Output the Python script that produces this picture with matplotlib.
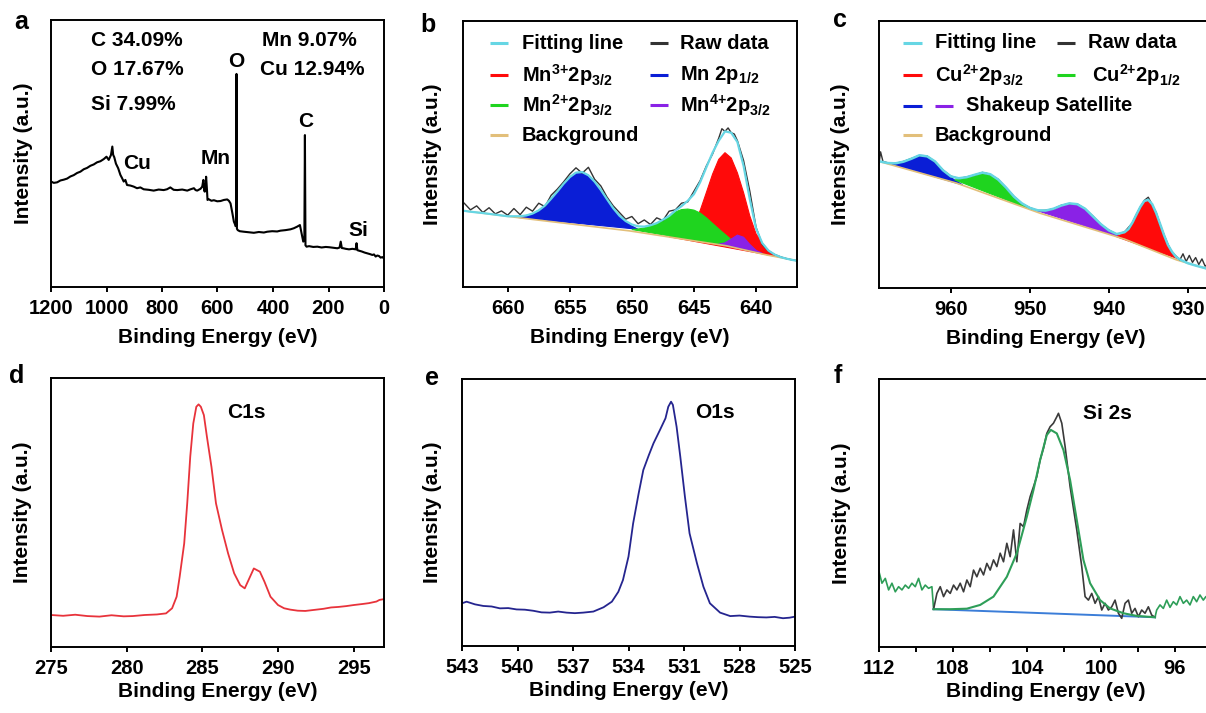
import matplotlib
matplotlib.use('Agg')
import matplotlib.pyplot as plt
from matplotlib.ticker import MultipleLocator

plt.rcParams['font.family'] = 'Liberation Sans'
plt.rcParams['font.weight'] = 'bold'
plt.rcParams['mathtext.fontset'] = 'custom'
plt.rcParams['mathtext.rm'] = 'Liberation Sans:bold'
plt.rcParams['mathtext.it'] = 'Liberation Sans:bold'
plt.rcParams['mathtext.bf'] = 'Liberation Sans:bold'
plt.rcParams['mathtext.default'] = 'rm'
plt.rcParams['axes.linewidth'] = 1.4

# ---------------- data (binding energy in eV, intensity in a.u.) ----------------
# a: survey
survey_ev = [1200, 1190, 1178, 1166, 1154, 1142, 1130, 1118, 1106, 1094, 1082, 1070, 1058, 1046,
             1034, 1022, 1010, 1000, 992, 984, 979, 976, 972, 966, 958, 950, 944, 938, 932, 926,
             914, 902, 890, 878, 866, 848, 830, 812, 794, 782, 770, 758, 745, 727, 709, 697, 685,
             679, 673, 661, 655, 651, 648, 646, 643, 641, 638, 636, 632, 622, 613, 601, 589, 577,
             565, 559, 553, 547, 541, 537, 535, 533, 531.5, 530, 527, 520, 505, 487, 469, 451, 433,
             421, 403, 385, 373, 355, 337, 325, 313, 303, 297, 291, 287, 285, 283, 279, 270, 255,
             240, 225, 210, 198, 183, 168, 160, 156, 152, 146, 138, 126, 114, 102, 99, 96, 90, 80,
             70, 60, 50, 42, 36, 30, 24, 18, 12, 6, 0]
survey_int = [39.5, 39.0, 39.2, 39.9, 40.2, 40.6, 41.4, 41.9, 42.7, 43.2, 44.1, 44.6, 45.4, 45.9,
              46.7, 47.1, 47.9, 48.8, 47.6, 49.4, 52.6, 49.5, 48.6, 46.2, 44.5, 42.0, 40.8, 39.5,
              40.1, 38.2, 38.0, 37.6, 37.0, 37.3, 36.6, 36.4, 36.1, 36.5, 36.3, 36.6, 37.3, 36.4,
              36.3, 36.5, 36.1, 36.6, 37.0, 36.3, 36.1, 36.8, 37.6, 40.1, 36.2, 35.7, 38.0, 41.3,
              36.5, 32.6, 32.9, 32.3, 32.5, 32.1, 32.2, 32.6, 32.8, 32.3, 31.3, 28.0, 24.5, 23.5,
              22.8, 23.0, 79.8, 21.8, 21.3, 20.9, 20.7, 20.5, 20.3, 20.6, 20.4, 20.7, 20.9, 20.8,
              21.1, 21.3, 21.6, 22.0, 22.6, 23.2, 20.1, 17.0, 17.5, 56.9, 15.6, 15.1, 15.3, 15.0,
              15.1, 14.8, 15.0, 14.9, 14.7, 14.5, 14.8, 17.0, 14.6, 14.5, 14.3, 14.1, 14.3, 14.1,
              16.4, 13.8, 13.6, 13.3, 12.9, 12.6, 12.3, 12.0, 12.2, 11.4, 11.8, 11.6, 11.0, 11.2, 10.7]
survey_labels = ['O', 'C', 'Cu', 'Mn', 'Si']
survey_label_ev = [531, 283, 890, 607, 91]
survey_label_int = [84.3, 61.8, 46.4, 48.3, 21.3]
composition = ['C 34.09%', 'O 17.67%', 'Si 7.99%', 'Mn 9.07%', 'Cu 12.94%']

# b: Mn 2p
mn_bg_ev = [663.6, 658.0, 650.2, 642.4, 639.1, 636.7]
mn_bg_int = [28.7, 25.4, 21.1, 15.5, 12.0, 9.9]
mn_fit_ev = [663.6, 663, 662, 661, 660, 659, 658.5, 658, 657.5, 657, 656.5, 656, 655.5, 655, 654.5,
             654, 653.5, 653, 652.5, 652, 651.5, 651, 650.5, 650, 649.5, 649, 648.5, 648, 647.5,
             647, 646.5, 646, 645.5, 645, 644.5, 644, 643.5, 643, 642.5, 642, 641.5, 641, 640.5,
             640, 639.5, 639, 638.5, 638, 637.5, 637, 636.7]
mn_fit_int = [28.7, 28.3, 27.8, 27.2, 26.6, 26.6, 26.9, 27.6, 28.8, 30.6, 33.2, 35.9, 38.8, 41.3,
              43.0, 43.2, 42.0, 39.6, 36.5, 33.0, 29.6, 26.8, 24.8, 23.5, 22.8, 22.7, 23.2, 24.0,
              25.3, 26.7, 28.7, 30.4, 32.4, 34.9, 39.4, 45.0, 50.5, 55.0, 58.5, 58.0, 54.5, 45.5,
              33.0, 22.0, 16.5, 13.7, 12.2, 11.2, 10.6, 10.1, 9.9]
mn_raw_ev = [663.5, 663, 662.5, 662, 661.5, 661, 660.5, 660, 659.5, 659, 658.5, 658, 657.5, 657,
             656.5, 656, 655.5, 655, 654.5, 654, 653.5, 653, 652.5, 652, 651.5, 651, 650.5, 650,
             649.5, 649, 648.5, 648, 647.5, 647, 646.5, 646, 645.5, 645, 644.5, 644, 643.5, 643,
             642.75, 642.5, 642.25, 642, 641.75, 641.5, 641, 640.5, 640, 639.5, 639, 638.5, 638,
             637.5, 637, 636.7]
mn_raw_int = [31.5, 29.0, 30.5, 28.0, 29.8, 27.5, 28.6, 27.0, 29.5, 27.2, 30.0, 28.5, 31.5, 30.2,
              34.5, 36.8, 39.5, 42.5, 44.8, 42.8, 45.0, 40.5, 38.0, 33.8, 30.5, 28.0, 25.5, 26.5,
              23.8, 25.2, 23.5, 26.0, 25.0, 28.5, 29.0, 31.5, 32.0, 36.0, 40.0, 45.5, 50.0, 56.0,
              59.5, 58.5, 59.8, 58.0, 57.5, 55.0, 47.5, 36.0, 22.5, 16.0, 13.5, 12.2, 11.3, 10.6,
              10.1, 9.9]
mn12_ev = [659.5, 659.0, 658.5, 658.0, 657.5, 657.0, 656.5, 656.0, 655.5, 655.0, 654.5, 654.0,
           653.5, 653.0, 652.5, 652.0, 651.5, 651.0, 650.5, 650.0, 649.5]
mn12_int = [26.3, 26.6, 26.9, 27.6, 28.8, 30.6, 33.2, 35.9, 38.8, 41.3, 43.0, 43.2, 42.0, 39.6,
            36.5, 33.0, 29.6, 26.8, 24.5, 22.9, 21.7]
mn3_ev = [647.0, 646.5, 646.0, 645.5, 645.0, 644.5, 644.0, 643.5, 643.0, 642.5, 642.0, 641.5,
          641.0, 640.5, 640.0, 639.5, 639.0, 638.5, 638.0]
mn3_int = [18.9, 19.1, 19.5, 20.9, 23.4, 28.7, 35.5, 42.4, 48.0, 50.5, 48.5, 42.9, 35.4, 26.7,
           20.0, 16.5, 13.7, 12.2, 11.2]
mn2_ev = [650.0, 649.5, 649.0, 648.5, 648.0, 647.5, 647.0, 646.5, 646.0, 645.5, 645.0, 644.5,
          644.0, 643.5, 643.0, 642.5, 642.0, 641.5, 641.0, 640.5]
mn2_int = [21.6, 21.8, 22.2, 23.0, 24.0, 25.3, 26.5, 28.2, 29.1, 29.3, 28.9, 27.8, 26.0, 23.9,
           21.8, 19.8, 17.8, 16.3, 15.0, 14.0]
mn4_ev = [643.0, 642.5, 642.0, 641.5, 641.0, 640.5, 640.0, 639.5]
mn4_int = [16.1, 16.6, 18.0, 19.5, 18.7, 16.0, 13.8, 12.65]

# c: Cu 2p
cu_bg_ev = [969.1, 959.3, 948.7, 938.0, 931.4, 926.8]
cu_bg_int = [47.4, 39.3, 28.0, 18.3, 10.5, 6.6]
cu_fit_ev = [969.1, 969, 968, 967, 966, 965, 964, 963, 962, 961, 960, 959, 958, 957, 956, 955,
             954, 953, 952, 951, 950, 949, 948, 947, 946, 945, 944, 943, 942, 941, 940, 939, 938,
             937.5, 937, 936.5, 936, 935.5, 935, 934.5, 934, 933.5, 933, 932.5, 932, 931.5, 931,
             930, 929, 928, 926.8]
cu_fit_int = [47.4, 47.4, 46.8, 46.7, 47.3, 48.4, 49.7, 49.3, 47.4, 44.1, 41.8, 41.1, 41.5, 42.4,
              43.2, 42.6, 40.6, 37.6, 34.2, 31.7, 30.0, 29.1, 29.0, 29.7, 30.9, 31.7, 31.4, 29.7,
              26.8, 23.9, 21.6, 20.2, 20.9, 22.1, 24.5, 27.5, 30.4, 32.6, 33.0, 31.4, 28.1, 24.0,
              19.8, 16.1, 13.6, 11.7, 10.7, 9.3, 8.4, 7.6, 6.6]
cu_raw_ev = [969.1, 968.9, 968.6, 968, 967, 966, 965, 964, 963, 962, 961, 960, 959, 958, 957, 956,
             955, 954, 953, 952, 951, 950, 949, 948, 947, 946, 945, 944, 943, 942, 941, 940, 939,
             938, 937, 936.5, 936, 935.5, 935, 934.5, 934, 933.5, 933, 932.5, 932, 931.5, 931,
             930.6, 930.2, 929.8, 929.4, 929, 928.6, 928.2, 927.8, 927.4, 927.0]
cu_raw_int = [46.5, 51.0, 47.4, 46.9, 46.7, 47.4, 48.5, 49.6, 49.4, 47.3, 44.2, 41.9, 41.0, 41.6,
              42.3, 43.3, 42.5, 40.7, 37.5, 34.3, 31.6, 30.1, 29.0, 29.1, 29.6, 31.0, 31.6, 31.5,
              29.6, 26.9, 23.8, 21.7, 20.1, 21.0, 24.4, 27.6, 30.3, 32.8, 34.0, 31.2, 28.3, 23.8,
              19.9, 16.3, 13.4, 12.0, 10.5, 12.8, 9.9, 12.2, 9.6, 11.4, 8.8, 10.9, 8.2, 9.0, 7.4]
sat1_ev = [968.0, 967.0, 966.0, 965.0, 964.0, 963.3, 962.5, 961.5, 960.5, 959.5, 958.5]
sat1_int = [46.8, 46.7, 47.3, 48.4, 49.7, 49.6, 48.3, 45.5, 42.6, 40.4, 38.6]
cu12_ev = [959.5, 959.0, 958.0, 957.0, 956.0, 955.3, 954.5, 953.5, 952.5, 951.5, 950.5, 949.5]
cu12_int = [40.5, 40.6, 41.3, 42.4, 43.2, 42.9, 41.6, 38.7, 35.3, 32.4, 30.5, 29.0]
sat2_ev = [949.0, 948.0, 947.0, 946.0, 945.0, 944.1, 943.0, 942.0, 941.0, 940.0, 939.0, 938.0]
sat2_int = [28.9, 29.0, 29.7, 30.9, 31.7, 31.5, 29.7, 26.8, 23.9, 21.5, 19.7, 18.5]
cu32_ev = [939.0, 938.0, 937.5, 937.0, 936.5, 936.0, 935.5, 935.0, 934.5, 934.0, 933.5, 933.0,
           932.5, 932.0, 931.5, 931.0]
cu32_int = [19.2, 20.7, 22.0, 24.5, 27.5, 30.4, 32.6, 33.0, 31.4, 28.1, 24.0, 19.8, 16.1, 13.6,
            11.7, 10.7]

# d: C 1s
c1s_ev = [275.0, 275.8, 276.6, 277.4, 278.2, 279.0, 279.8, 280.4, 281.2, 282.0, 282.6, 283.0,
          283.3, 283.5, 283.8, 284.0, 284.2, 284.4, 284.6, 284.75, 284.9, 285.1, 285.3, 285.6,
          285.9, 286.3, 286.7, 287.1, 287.5, 287.8, 288.1, 288.4, 288.8, 289.1, 289.5, 290.0,
          290.4, 290.8, 291.3, 291.8, 292.4, 293.0, 293.5, 294.0, 294.5, 295.0, 295.6, 296.0,
          296.5, 296.7, 297.0]
c1s_int = [11.9, 11.6, 12.0, 11.5, 11.3, 11.8, 11.4, 11.5, 11.9, 12.1, 12.5, 14.4, 18.7, 26.1,
           38.5, 53.4, 70.8, 83.1, 89.3, 90.2, 89.3, 86.2, 78.2, 67.0, 53.4, 43.5, 34.8, 27.4,
           23.0, 21.8, 25.5, 29.2, 28.0, 24.3, 18.7, 15.6, 14.4, 13.9, 13.5, 13.4, 13.8, 14.2,
           14.7, 14.9, 15.2, 15.6, 16.0, 16.3, 16.9, 17.5, 17.8]

# e: O 1s
o1s_ev = [543.0, 542.75, 542.3, 541.85, 541.4, 540.95, 540.5, 540.05, 539.6, 539.15, 538.7,
          538.25, 537.8, 537.35, 536.9, 536.45, 535.9, 535.35, 534.9, 534.55, 534.3, 534.0,
          533.75, 533.45, 533.2, 532.9, 532.65, 532.3, 532.0, 531.85, 531.7, 531.6, 531.4,
          531.2, 530.95, 530.7, 530.3, 529.95, 529.6, 529.05, 528.5, 528.0, 527.45, 527.0,
          526.55, 526.1, 525.65, 525.3, 525.0]
o1s_int = [16.0, 16.6, 15.6, 15.0, 14.8, 14.1, 14.2, 13.7, 13.6, 13.2, 12.6, 12.5, 12.9, 12.5,
           12.3, 12.5, 12.9, 14.5, 16.6, 20.3, 24.7, 33.5, 45.9, 57.2, 65.9, 71.5, 75.9, 80.9,
           85.3, 89.6, 91.5, 90.3, 82.1, 70.9, 55.9, 42.2, 31.0, 22.2, 16.0, 12.5, 11.2, 11.4,
           11.0, 10.8, 10.7, 10.9, 10.4, 10.6, 11.0]

# f: Si 2s
si_raw_ev = [109.05, 108.87, 108.69, 108.51, 108.33, 108.15, 107.97, 107.79, 107.61, 107.43,
             107.25, 107.07, 106.89, 106.71, 106.53, 106.35, 106.17, 105.99, 105.81, 105.63,
             105.45, 105.27, 105.09, 104.91, 104.73, 104.55, 104.37, 104.19, 104.01, 103.83,
             103.65, 103.47, 103.29, 103.11, 102.93, 102.75, 102.57, 102.39, 102.3, 102.12,
             101.94, 101.67, 101.31, 101.04, 100.86, 100.68, 100.5, 100.32, 100.14, 99.96, 99.78,
             99.6, 99.42, 99.24, 99.06, 98.88, 98.7, 98.52, 98.34, 98.16, 97.98, 97.8, 97.62,
             97.44, 97.26, 97.08]
si_raw_int = [14.1, 20.0, 22.5, 18.8, 21.3, 20.0, 23.1, 21.3, 23.8, 20.6, 25.0, 22.5, 28.7, 26.2,
              29.4, 26.9, 31.2, 28.7, 32.5, 30.0, 35.0, 31.8, 38.7, 33.7, 43.7, 31.8, 46.1, 44.9,
              51.1, 56.1, 59.8, 63.6, 69.8, 74.1, 79.7, 82.2, 83.5, 85.9, 87.2, 83.5, 74.8, 59.8,
              43.7, 30.0, 18.8, 17.5, 20.0, 16.3, 18.8, 13.8, 16.3, 13.8, 15.0, 17.5, 12.6, 10.7,
              16.3, 17.5, 12.6, 14.4, 11.3, 13.8, 12.6, 15.0, 11.9, 11.1]
si_fit_ev = [109.05, 108.15, 107.25, 106.53, 105.81, 105.09, 104.55, 104.01, 103.65, 103.29,
             102.93, 102.71, 102.39, 102.03, 101.67, 101.31, 100.95, 100.59, 100.05, 99.51,
             98.79, 98.07, 97.08]
si_fit_int = [14.1, 14.1, 14.3, 15.7, 18.8, 26.2, 35.0, 48.6, 58.6, 69.8, 79.1, 81.0, 79.7, 73.5,
              62.3, 47.4, 32.5, 23.8, 17.5, 14.4, 12.6, 11.6, 11.1]
si_left_ev = [112.0, 111.84, 111.66, 111.48, 111.3, 111.12, 110.94, 110.76, 110.58, 110.4,
              110.22, 110.04, 109.86, 109.68, 109.5, 109.32, 109.14, 109.05]
si_left_int = [28.1, 23.8, 25.6, 21.3, 23.8, 20.6, 22.5, 21.3, 23.1, 21.9, 23.8, 22.5, 25.6, 21.3,
               23.1, 21.9, 22.5, 14.1]
si_right_ev = [97.08, 96.99, 96.81, 96.63, 96.45, 96.27, 96.09, 95.91, 95.73, 95.55, 95.37,
               95.19, 95.01, 94.83, 94.65, 94.47, 94.33, 94.0]
si_right_int = [11.1, 13.8, 15.7, 14.4, 17.5, 14.8, 16.9, 15.7, 18.8, 16.3, 17.5, 15.7, 18.8,
                16.9, 19.4, 17.5, 18.8, 17.9]
si_bg_ev = [109.05, 97.08]
si_bg_int = [14.1, 11.1]

# ---------------- colours ----------------
CYAN = '#66d6e4'
RAW = '#333333'
RED = '#ff0a0a'
BLUE = '#0a1ed6'
GREEN = '#1fd41f'
PURPLE = '#8a22e6'
TAN = '#e2bf7a'

W, H = 1206, 713
fig = plt.figure(figsize=(W / 100, H / 100), dpi=100)


def make_ax(x, y_top, w, h):
    return fig.add_axes([x / W, 1 - (y_top + h) / H, w / W, h / H])


def style(ax, xlim, ticks, ylab_x, labelpad):
    ax.set_xlim(*xlim)
    ax.set_ylim(0, 100)
    ax.set_xticks(ticks)
    ax.set_yticks([])
    ax.tick_params(axis='x', direction='out', length=3.6, width=1.4, labelsize=14.5, pad=5)
    for t in ax.get_xticklabels():
        t.set_fontweight('bold')
    ax.set_xlabel('Binding Energy (eV)', fontsize=15, fontweight='bold', labelpad=labelpad)
    ax.text(ylab_x, 0.5, 'Intensity (a.u.)', rotation=90, ha='center', va='center',
            fontsize=15, fontweight='bold', transform=ax.transAxes)


def legend_entry(ax, x0, x1, y, color, label=None, tx=None):
    ax.plot([x0, x1], [y, y], color=color, lw=2.2, transform=ax.transAxes,
            solid_capstyle='butt')
    if label is not None:
        ax.text(tx, y, label, transform=ax.transAxes, ha='left', va='center',
                fontsize=14.5, fontweight='bold')


# ---- a ----
ax_a = make_ax(51, 20, 333, 267)
ax_a.plot(survey_ev, survey_int, color='black', lw=1.5)
for lab, xe, yi in zip(survey_labels, survey_label_ev, survey_label_int):
    ax_a.text(xe, yi, lab, ha='center', va='center', fontsize=15, fontweight='bold')
comp_pos = [(0.12, 0.925), (0.12, 0.816), (0.12, 0.685), (0.634, 0.925), (0.628, 0.816)]
for txt, (px, py) in zip(composition, comp_pos):
    ax_a.text(px, py, txt, transform=ax_a.transAxes, ha='left', va='center',
              fontsize=15, fontweight='bold')
style(ax_a, (1200, 0), range(1200, -1, -200), -0.084, 7.5)

# ---- b ----
ax_b = make_ax(463, 21, 334, 266)
ax_b.fill(mn12_ev, mn12_int, color=BLUE, lw=0.8)
ax_b.fill(mn3_ev, mn3_int, color=RED, lw=0.8)
ax_b.fill(mn2_ev, mn2_int, color=GREEN, lw=0.8)
ax_b.fill(mn4_ev, mn4_int, color=PURPLE, lw=0.8)
ax_b.plot(mn_bg_ev, mn_bg_int, color=TAN, lw=1.2)
ax_b.plot(mn_raw_ev, mn_raw_int, color=RAW, lw=1.0)
ax_b.plot(mn_fit_ev, mn_fit_int, color=CYAN, lw=1.6)
rows = [0.917, 0.797, 0.684, 0.571]
legend_entry(ax_b, 0.081, 0.135, rows[0], CYAN, 'Fitting line', 0.177)
legend_entry(ax_b, 0.560, 0.614, rows[0], RAW, 'Raw data', 0.650)
legend_entry(ax_b, 0.081, 0.135, rows[1], RED, r'Mn$^{3{+}}$2p$_{3/2}$', 0.177)
legend_entry(ax_b, 0.560, 0.614, rows[1], BLUE, r'Mn 2p$_{1/2}$', 0.650)
legend_entry(ax_b, 0.081, 0.135, rows[2], GREEN, r'Mn$^{2{+}}$2p$_{3/2}$', 0.177)
legend_entry(ax_b, 0.560, 0.614, rows[2], PURPLE, r'Mn$^{4{+}}$2p$_{3/2}$', 0.650)
legend_entry(ax_b, 0.081, 0.135, rows[3], TAN, 'Background', 0.177)
style(ax_b, (663.6, 636.7), range(660, 639, -5), -0.09, 7.5)

# ---- c ----
ax_c = make_ax(879, 21, 334, 267)
ax_c.fill(sat1_ev, sat1_int, color=BLUE, lw=0.8)
ax_c.fill(cu12_ev, cu12_int, color=GREEN, lw=0.8)
ax_c.fill(sat2_ev, sat2_int, color=PURPLE, lw=0.8)
ax_c.fill(cu32_ev, cu32_int, color=RED, lw=0.8)
ax_c.plot(cu_bg_ev, cu_bg_int, color=TAN, lw=1.2)
ax_c.plot(cu_raw_ev, cu_raw_int, color=RAW, lw=1.0)
ax_c.plot(cu_fit_ev, cu_fit_int, color=CYAN, lw=1.8)
rows = [0.918, 0.798, 0.682, 0.573]
legend_entry(ax_c, 0.072, 0.129, rows[0], CYAN, 'Fitting line', 0.168)
legend_entry(ax_c, 0.533, 0.587, rows[0], RAW, 'Raw data', 0.626)
legend_entry(ax_c, 0.072, 0.129, rows[1], RED, r'Cu$^{2{+}}$2p$_{3/2}$', 0.168)
legend_entry(ax_c, 0.533, 0.587, rows[1], GREEN, r'Cu$^{2{+}}$2p$_{1/2}$', 0.638)
legend_entry(ax_c, 0.072, 0.129, rows[2], BLUE)
legend_entry(ax_c, 0.168, 0.222, rows[2], PURPLE, 'Shakeup Satellite', 0.26)
legend_entry(ax_c, 0.072, 0.129, rows[3], TAN, 'Background', 0.168)
style(ax_c, (969.1, 926.8), [960, 950, 940, 930], -0.114, 7.5)

# ---- d ----
ax_d = make_ax(51, 378, 333, 269)
ax_d.plot(c1s_ev, c1s_int, color='#e8333b', lw=1.3)
ax_d.text(0.528, 0.87, 'C1s', transform=ax_d.transAxes, ha='left', va='center',
          fontsize=15, fontweight='bold')
style(ax_d, (275, 297), range(275, 296, 5), -0.087, 3)

# ---- e ----
ax_e = make_ax(462, 379, 333, 267)
ax_e.plot(o1s_ev, o1s_int, color='#25258f', lw=1.3)
ax_e.text(0.70, 0.873, 'O1s', transform=ax_e.transAxes, ha='left', va='center',
          fontsize=15, fontweight='bold')
style(ax_e, (543, 525), range(543, 524, -3), -0.09, 3)

# ---- f ----
ax_f = make_ax(879, 379, 333, 268)
ax_f.plot(si_left_ev, si_left_int, color='#2e9e58', lw=1.2)
ax_f.plot(si_right_ev, si_right_int, color='#2e9e58', lw=1.2)
ax_f.plot(si_bg_ev, si_bg_int, color='#3b7dd8', lw=1.4)
ax_f.plot(si_raw_ev, si_raw_int, color='#3a3a3a', lw=1.2)
ax_f.plot(si_fit_ev, si_fit_int, color='#2e9e58', lw=1.5)
ax_f.text(0.613, 0.873, 'Si 2s', transform=ax_f.transAxes, ha='left', va='center',
          fontsize=15, fontweight='bold')
style(ax_f, (112, 94.0), range(112, 95, -4), -0.114, 3)
ax_f.xaxis.set_minor_locator(MultipleLocator(2))
ax_f.tick_params(axis='x', which='minor', direction='out', length=3.6, width=1.4)

# panel letters
for letter, (px, py) in zip('abcdef', [(21, 22), (428, 25), (840, 20), (17, 376), (432, 378), (838, 376)]):
    fig.text(px / W, 1 - py / H, letter, ha='center', va='center', fontsize=18, fontweight='bold')

fig.savefig('out.png', dpi=100)
